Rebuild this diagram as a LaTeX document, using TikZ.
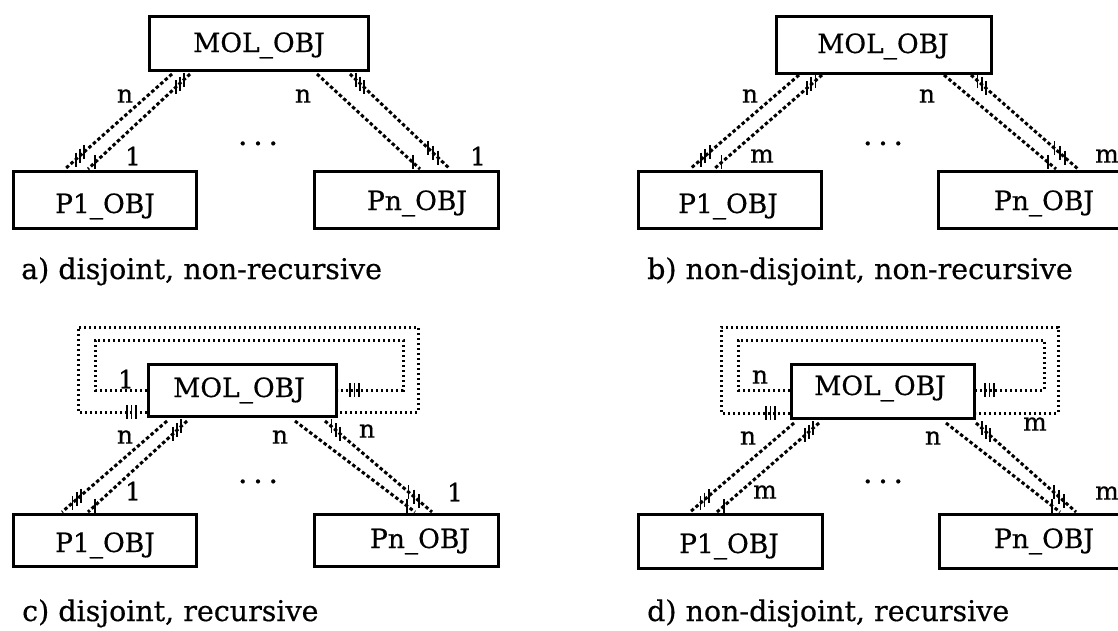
\documentclass[tikz,border=0pt]{standalone}
\usepackage{fontspec}
\setmainfont{DejaVu Serif}[FakeBold=0.5]
\usetikzlibrary{calc}
% short vertical hatch strokes placed at fractions along a segment
\newcommand\hatchmarks[3]{%
  \foreach \t in {#3}{\draw[hatch] ($(#1)!\t!(#2)$) ++(0,-7) -- ++(0,14);}}
\begin{document}
\begin{tikzpicture}[x=1pt,y=-1pt,
  box/.style={draw, line width=3.4pt, inner sep=0pt},
  boxtext/.style={anchor=base, inner sep=0pt, font=\fontsize{26.5}{28}\selectfont},
  lbl/.style={inner sep=0pt, font=\fontsize{25}{27}\selectfont},
  dotsnode/.style={inner sep=0pt, font=\fontsize{14}{16}\selectfont},
  captext/.style={anchor=base west, inner sep=0pt, font=\fontsize{28.5}{30}\selectfont},
  rel/.style={line width=3pt, dash pattern=on 3.5pt off 2.5pt},
  ring/.style={line width=3pt, dash pattern=on 2.2pt off 2.8pt},
  hatch/.style={line width=1.8pt}]
\useasboundingbox (0,0) rectangle (1118,630);
\clip (0,0) rectangle (1118,630);
\newcommand\ellip{•\hspace{7pt}•\hspace{7pt}•}

% ---------------- a) disjoint, non-recursive ----------------
\node[box, minimum width=218.6pt, minimum height=53.6pt] (a-mol) at (259,43.5) {};
\node[boxtext] (a-molt) at (259,52) {MOL\_OBJ};
\node[box, minimum width=182.6pt, minimum height=56.6pt] (a-p1) at (105,200) {};
\node[boxtext] (a-p1t) at (105,213) {P1\_OBJ};
\node[box, minimum width=183.6pt, minimum height=56.6pt] (a-pn) at (406.5,200) {};
\node[boxtext] (a-pnt) at (417,210) {Pn\_OBJ};
\coordinate (a-lo1) at (172,74);  \coordinate (a-lo2) at (65,169);
\coordinate (a-li1) at (190,74);  \coordinate (a-li2) at (88,169);
\coordinate (a-ro1) at (317,74);  \coordinate (a-ro2) at (420,169);
\coordinate (a-ri1) at (350,74);  \coordinate (a-ri2) at (450,169);
\draw[rel] (a-lo1) -- (a-lo2);  \draw[rel] (a-li1) -- (a-li2);
\draw[rel] (a-ro1) -- (a-ro2);  \draw[rel] (a-ri1) -- (a-ri2);
\hatchmarks{a-li1}{a-li2}{0.06,0.1,0.14}
\hatchmarks{a-lo1}{a-lo2}{0.82,0.86,0.9}
\hatchmarks{a-li1}{a-li2}{0.93}
\hatchmarks{a-ri1}{a-ri2}{0.06,0.1,0.14}
\hatchmarks{a-ri1}{a-ri2}{0.78,0.83,0.88}
\hatchmarks{a-ro1}{a-ro2}{0.93}
\node[lbl] (a-n1) at (125,96) {n};
\node[lbl] (a-c1) at (133,156) {1};
\node[lbl] (a-n2) at (303,96) {n};
\node[lbl] (a-c2) at (478,156) {1};
\node[dotsnode] (a-dots) at (258,145) {\ellip};
\node[captext] (a-cap) at (21,279) {a) disjoint, non-recursive};

% ---------------- b) non-disjoint, non-recursive ----------------
\node[box, minimum width=214.6pt, minimum height=56.6pt] (b-mol) at (884,45) {};
\node[boxtext] (b-molt) at (883,53) {MOL\_OBJ};
\node[box, minimum width=182.6pt, minimum height=56.6pt] (b-p1) at (730,200) {};
\node[boxtext] (b-p1t) at (728,213) {P1\_OBJ};
\node[box, minimum width=189.6pt, minimum height=56.6pt] (b-pn) at (1033.5,200) {};
\node[boxtext] (b-pnt) at (1044,210) {Pn\_OBJ};
\coordinate (b-lo1) at (799,75);  \coordinate (b-lo2) at (690,169);
\coordinate (b-li1) at (822,75);  \coordinate (b-li2) at (714,169);
\coordinate (b-ro1) at (944,75);  \coordinate (b-ro2) at (1056,169);
\coordinate (b-ri1) at (971,75);  \coordinate (b-ri2) at (1078,169);
\draw[rel] (b-lo1) -- (b-lo2);  \draw[rel] (b-li1) -- (b-li2);
\draw[rel] (b-ro1) -- (b-ro2);  \draw[rel] (b-ri1) -- (b-ri2);
\hatchmarks{b-li1}{b-li2}{0.06,0.1,0.14}
\hatchmarks{b-lo1}{b-lo2}{0.82,0.86,0.9}
\hatchmarks{b-li1}{b-li2}{0.93}
\hatchmarks{b-ri1}{b-ri2}{0.06,0.1,0.14}
\hatchmarks{b-ri1}{b-ri2}{0.78,0.83,0.88}
\hatchmarks{b-ro1}{b-ro2}{0.93}
\node[lbl] (b-n1) at (750,96) {n};
\node[lbl] (b-m1) at (762,156) {m};
\node[lbl] (b-n2) at (927,96) {n};
\node[lbl] (b-m2) at (1107,156) {m};
\node[dotsnode] (b-dots) at (883,145) {\ellip};
\node[captext] (b-cap) at (647,279) {b) non-disjoint, non-recursive};

% ---------------- c) disjoint, recursive ----------------
\node[box, minimum width=187.6pt, minimum height=51.6pt] (c-mol) at (242.5,390.5) {};
\node[boxtext] (c-molt) at (239,397) {MOL\_OBJ};
\node[box, minimum width=182.6pt, minimum height=51.6pt] (c-p1) at (105,540.5) {};
\node[boxtext] (c-p1t) at (105,552) {P1\_OBJ};
\node[box, minimum width=183.6pt, minimum height=51.6pt] (c-pn) at (406.5,540.5) {};
\node[boxtext] (c-pnt) at (420,548) {Pn\_OBJ};
% recursive relationship of MOL_OBJ with itself
\coordinate (c-wo) at (147,412);  \coordinate (c-eo) at (338,412);
\coordinate (c-wi) at (147,390);  \coordinate (c-ei) at (338,390);
\draw[ring] (c-wo) -- (78,412) -- (78,327) -- (418,327) -- (418,412) -- (c-eo);
\draw[ring] (c-wi) -- (95,390) -- (95,340) -- (403,340) -- (403,390) -- (c-ei);
\foreach \x in {127,131.5,136} \draw[hatch] (\x,405) -- (\x,419);
\foreach \x in {350,354.5,359} \draw[hatch] (\x,383) -- (\x,397);
\coordinate (c-lo1) at (167,421);  \coordinate (c-lo2) at (62,512);
\coordinate (c-li1) at (187,421);  \coordinate (c-li2) at (88,512);
\coordinate (c-ro1) at (295,421);  \coordinate (c-ro2) at (415,512);
\coordinate (c-ri1) at (325,421);  \coordinate (c-ri2) at (432,512);
\draw[rel] (c-lo1) -- (c-lo2);  \draw[rel] (c-li1) -- (c-li2);
\draw[rel] (c-ro1) -- (c-ro2);  \draw[rel] (c-ri1) -- (c-ri2);
\hatchmarks{c-li1}{c-li2}{0.06,0.1,0.14}
\hatchmarks{c-lo1}{c-lo2}{0.82,0.86,0.9}
\hatchmarks{c-li1}{c-li2}{0.93}
\hatchmarks{c-ri1}{c-ri2}{0.06,0.1,0.14}
\hatchmarks{c-ri1}{c-ri2}{0.78,0.83,0.88}
\hatchmarks{c-ro1}{c-ro2}{0.93}
\node[lbl] (c-r1) at (126,379) {1};
\node[lbl] (c-rn) at (367,431) {n};
\node[lbl] (c-n1) at (125,437) {n};
\node[lbl] (c-n2) at (280,437) {n};
\node[lbl] (c-c1) at (133,491) {1};
\node[lbl] (c-c2) at (455,492) {1};
\node[dotsnode] (c-dots) at (258,483) {\ellip};
\node[captext] (c-cap) at (22,621) {c) disjoint, recursive};

% ---------------- d) non-disjoint, recursive ----------------
\node[box, minimum width=182.6pt, minimum height=53.6pt] (d-mol) at (883,391.5) {};
\node[boxtext] (d-molt) at (880,395) {MOL\_OBJ};
\node[box, minimum width=183.6pt, minimum height=53.6pt] (d-p1) at (730.5,541.5) {};
\node[boxtext] (d-p1t) at (729,553) {P1\_OBJ};
\node[box, minimum width=188.6pt, minimum height=53.6pt] (d-pn) at (1034,541.5) {};
\node[boxtext] (d-pnt) at (1044,548) {Pn\_OBJ};
% recursive relationship of MOL_OBJ with itself
\coordinate (d-wo) at (790,413);  \coordinate (d-eo) at (976,413);
\coordinate (d-wi) at (790,390);  \coordinate (d-ei) at (976,390);
\draw[ring] (d-wo) -- (721,413) -- (721,327) -- (1058,327) -- (1058,413) -- (d-eo);
\draw[ring] (d-wi) -- (738,390) -- (738,340) -- (1044,340) -- (1044,390) -- (d-ei);
\foreach \x in {766,770.5,775} \draw[hatch] (\x,406) -- (\x,420);
\foreach \x in {985,989.5,994} \draw[hatch] (\x,383) -- (\x,397);
\coordinate (d-lo1) at (794,423);  \coordinate (d-lo2) at (690,512);
\coordinate (d-li1) at (819,423);  \coordinate (d-li2) at (717,512);
\coordinate (d-ro1) at (946,423);  \coordinate (d-ro2) at (1060,512);
\coordinate (d-ri1) at (976,423);  \coordinate (d-ri2) at (1076,512);
\draw[rel] (d-lo1) -- (d-lo2);  \draw[rel] (d-li1) -- (d-li2);
\draw[rel] (d-ro1) -- (d-ro2);  \draw[rel] (d-ri1) -- (d-ri2);
\hatchmarks{d-li1}{d-li2}{0.06,0.1,0.14}
\hatchmarks{d-lo1}{d-lo2}{0.82,0.86,0.9}
\hatchmarks{d-li1}{d-li2}{0.93}
\hatchmarks{d-ri1}{d-ri2}{0.06,0.1,0.14}
\hatchmarks{d-ri1}{d-ri2}{0.78,0.83,0.88}
\hatchmarks{d-ro1}{d-ro2}{0.93}
\node[lbl] (d-rn) at (760,377) {n};
\node[lbl] (d-rm) at (1035,424) {m};
\node[lbl] (d-n1) at (748,438) {n};
\node[lbl] (d-n2) at (933,438) {n};
\node[lbl] (d-m1) at (765,492) {m};
\node[lbl] (d-m2) at (1107,493) {m};
\node[dotsnode] (d-dots) at (883,483) {\ellip};
\node[captext] (d-cap) at (647,621) {d) non-disjoint, recursive};
\end{tikzpicture}
\end{document}
